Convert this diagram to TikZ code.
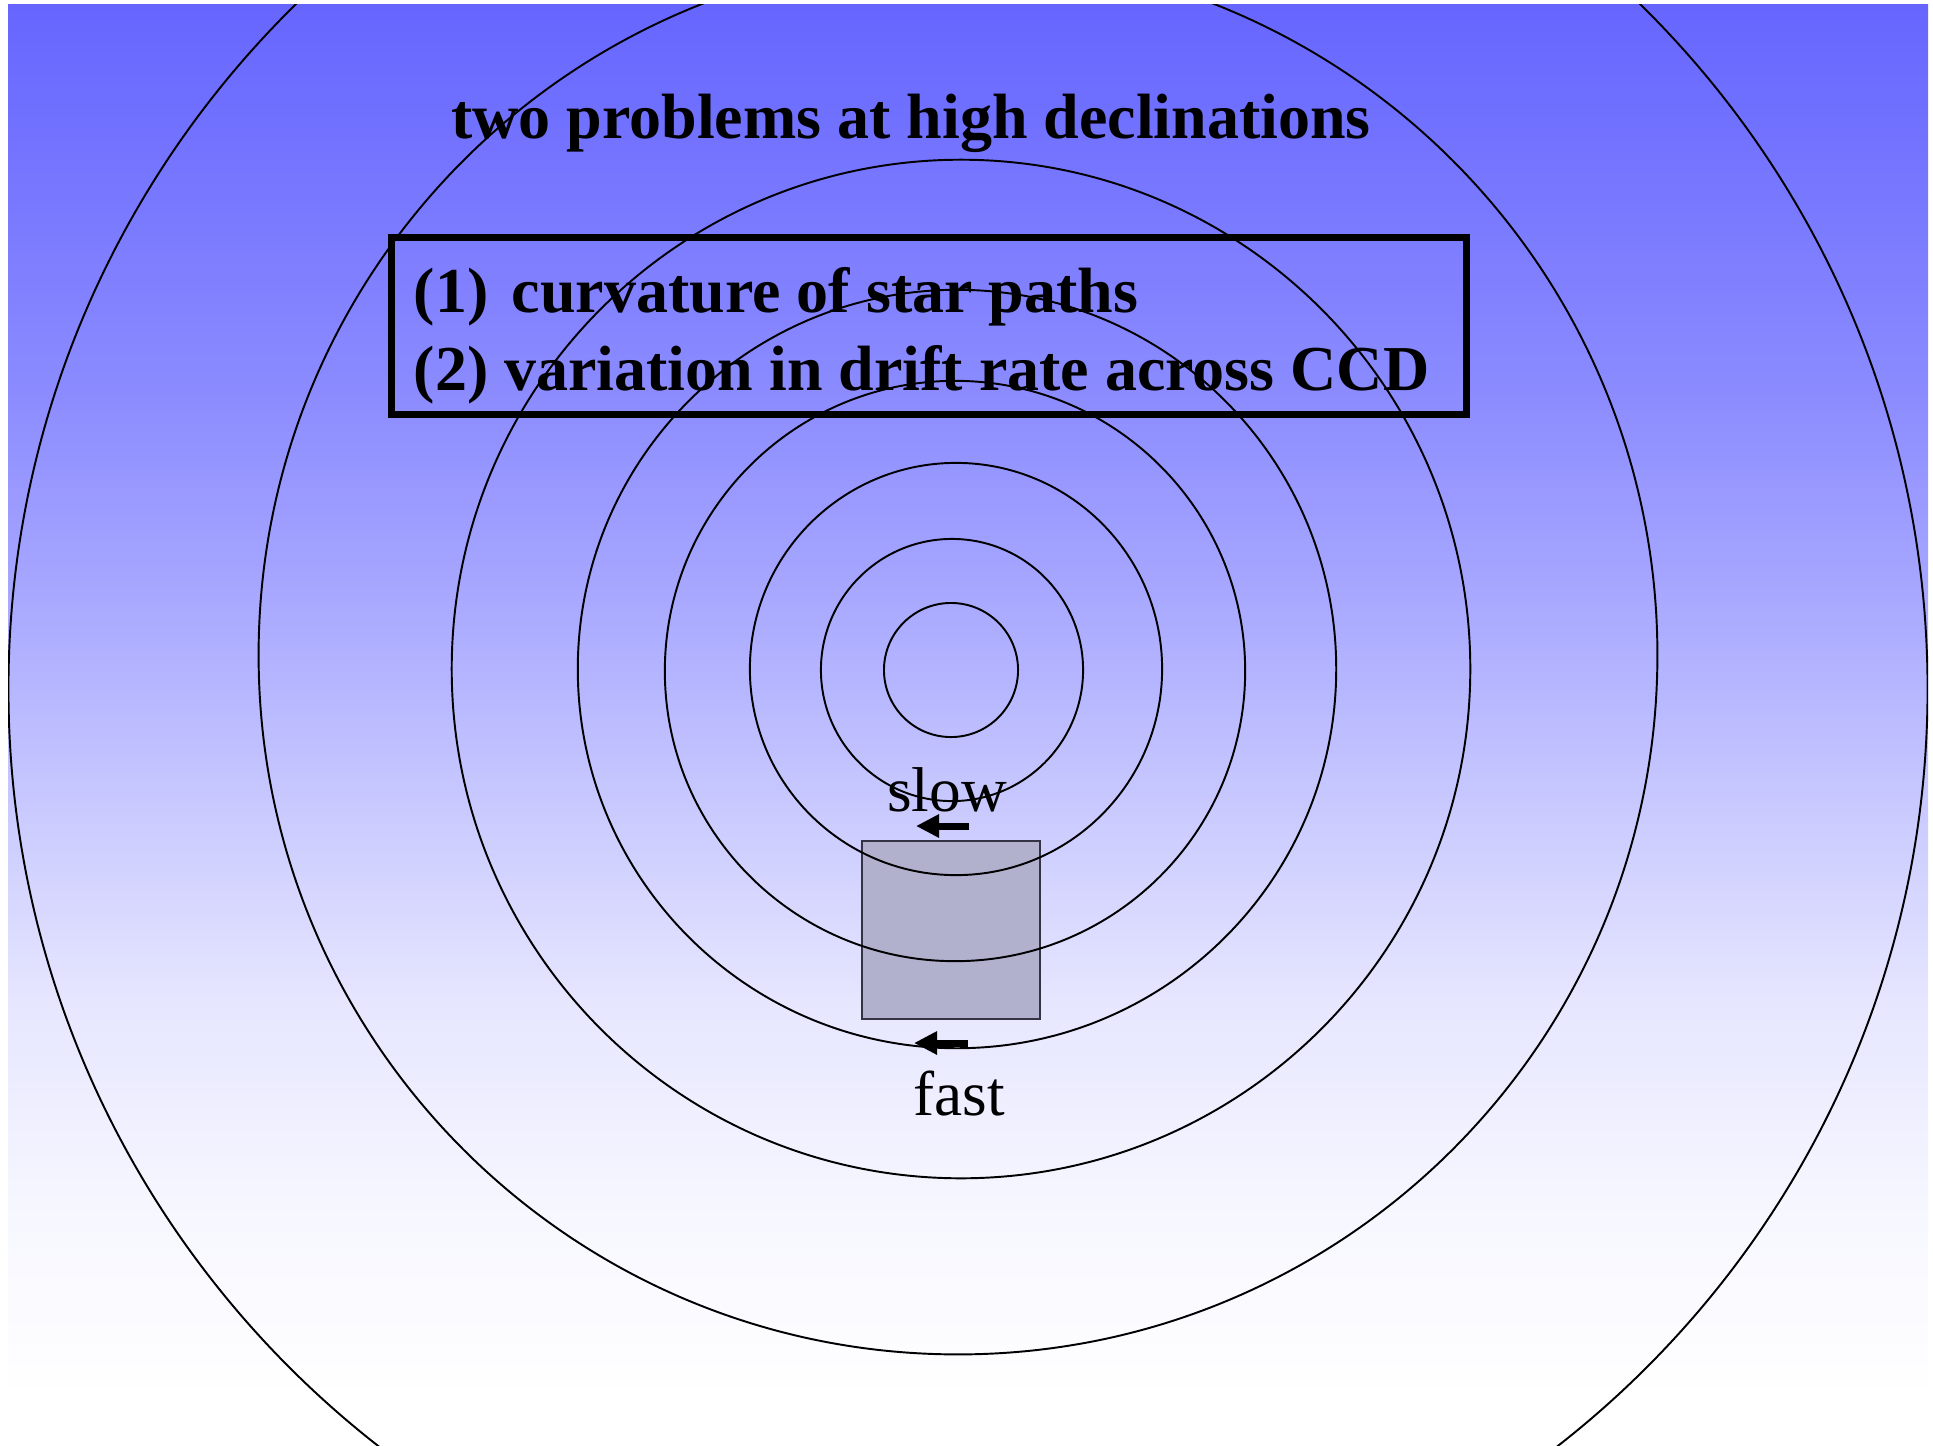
\documentclass[tikz,border=0pt]{standalone}
\usepackage{fontspec}
\setmainfont{Liberation Serif}
\usetikzlibrary{arrows.meta,positioning}
\definecolor{ccdFill}{HTML}{B1B1CD}
\definecolor{ccdLine}{HTML}{333344}
\pgfdeclareverticalshading{skyfade}{100bp}{rgb(0bp)=(1,1,1); rgb(26.6bp)=(1,1,1); rgb(33.5bp)=(0.965,0.965,1); rgb(40.4bp)=(0.902,0.902,1); rgb(47.4bp)=(0.784,0.784,1); rgb(54.4bp)=(0.659,0.659,1); rgb(61.3bp)=(0.549,0.549,1); rgb(68.2bp)=(0.471,0.471,1); rgb(75bp)=(0.4,0.4,1); rgb(100bp)=(0.4,0.4,1)}
\tikzset{
    trail/.style={draw=black, line width=0.55pt},
    headline/.style={font=\fontsize{18.2}{21.8}\selectfont\bfseries, inner sep=0pt, anchor=base},
    probline/.style={font=\fontsize{18.2}{21.8}\selectfont\bfseries, inner sep=0pt, anchor=base west},
    probframe/.style={draw=black, line width=2pt, minimum width=10.74cm, minimum height=1.77cm, inner sep=0pt},
    ccd/.style={draw=ccdLine, line width=0.6pt, fill=ccdFill, minimum size=1.78cm, inner sep=0pt},
    speed/.style={font=\fontsize{18}{21.6}\selectfont, inner sep=0pt, anchor=base},
    drift/.style={-{Triangle[length=0.23cm,width=0.22cm]}, line width=0.07cm, draw=black}
}

\begin{document}
\begin{tikzpicture}[x=0.01cm, y=-0.01cm]
\useasboundingbox (0,0) rectangle (1933,1445);
\fill[white] (0,0) rectangle (1933,1445);
\shade[shading=skyfade] (8,4) rectangle (1928,1445);
% detector under the star trails
\node[ccd] (chip) at (951,930) {};
\begin{scope}
    \clip (8,4) rectangle (1928,1445);
    \draw[trail] (951,670) circle[radius=0.67cm]; \draw[trail] (952,670) circle[radius=1.31cm];
    \draw[trail] (956,669) circle[radius=2.06cm]; \draw[trail] (955,671) circle[radius=2.90cm];
    \draw[trail] (957,669) circle[radius=3.79cm]; \draw[trail] (961,669) circle[radius=5.09cm];
    \draw[trail] (958,655) circle[radius=6.99cm]; \draw[trail] (968,689) circle[radius=9.59cm];
\end{scope}
\node[headline] (title) at (911,138) {two problems at high declinations};
\node[probframe] (box) at (929,326) {};
\node[probline] (prob1) at (413,312) {(1)\hspace{0.12em} curvature of star paths};
\node[probline] (prob2) at (413,390) {(2) variation in drift rate across CCD};
\node[speed] (slow) at (947,811) {slow};
\node[speed] (fast) at (959.5,1115) {fast};
\coordinate (slowtail) at (969,826); \coordinate (slowtip) at (916,826);
\coordinate (fasttail) at (968,1043); \coordinate (fasttip) at (914,1043);
\draw[drift] (slowtail)--(slowtip); \draw[drift] (fasttail)--(fasttip);
\end{tikzpicture}
\end{document}
